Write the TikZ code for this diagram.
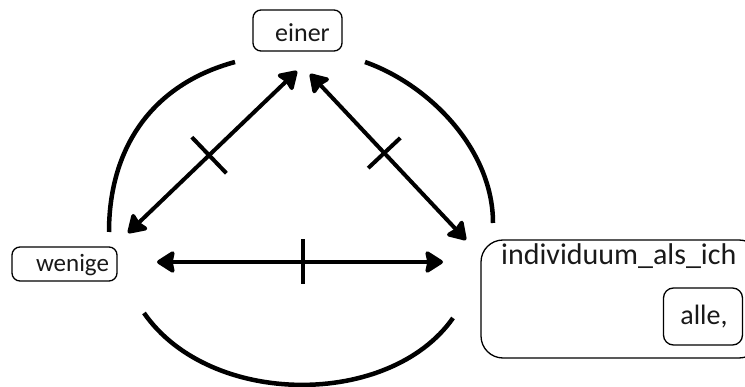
\documentclass[tikz,border=0pt]{standalone}
\usepackage{fontspec}
\setmainfont{Carlito}
\usetikzlibrary{arrows.meta,calc}
\begin{document}
\begin{tikzpicture}[x=1pt,y=-1pt,
  box/.style={draw,line width=1.3pt,rounded corners=8pt,inner sep=0pt},
  bigbox/.style={draw,line width=1.3pt,rounded corners=22pt,inner sep=0pt},
  txt/.style={anchor=base,inner sep=0pt,text=black!90},
  arcline/.style={line width=4.5pt},
  tipstyle/.tip={Stealth[length=20pt,width=25pt,inset=2.5pt,round]},
  link/.style={line width=4pt,tipstyle-tipstyle},
  tickmark/.style={line width=4pt}]
\useasboundingbox (0,0) rectangle (745,387);
\clip (0,0) rectangle (745,387);
% boxes
\node[box,minimum width=89pt,minimum height=41pt] (einer) at (297.5,30.5) {};
\node[txt,font=\fontsize{26pt}{30pt}\selectfont] (einertext) at (302.5,41.5) {einer};
\node[box,minimum width=105pt,minimum height=34pt] (wenige) at (64.5,264) {};
\node[txt,font=\fontsize{25pt}{30pt}\selectfont] (wenigetext) at (72.5,272) {wenige};
\node[bigbox,minimum width=280pt,minimum height=118pt] (indiv) at (621,299) {};
\node[anchor=base west,inner sep=0pt,text=black!90,font=\fontsize{30pt}{36pt}\selectfont] (indivlabel) at (501,265) {individuum\_als\_ich};
\node[box,rounded corners=10pt,minimum width=79pt,minimum height=57pt] (alle) at (703,316.5) {};
\node[txt,font=\fontsize{28pt}{34pt}\selectfont] (alletext) at (704,325) {alle,};
% arcs
\draw[arcline] (109,232) .. controls (109,150) and (150,85) .. (235,62);
\draw[arcline] (365,62) .. controls (430,85) and (493,150) .. (493,223);
\draw[arcline] (144,313) .. controls (210,408) and (390,408) .. (453,318);
% arrow end points
\coordinate (eL) at (297,71);
\coordinate (wT) at (128,233);
\coordinate (eR) at (310,74);
\coordinate (iT) at (466,240);
\coordinate (wR) at (157,262);
\coordinate (iL) at (443,262);
% connectors
\draw[link] (wT) -- (eL);
\draw[link] (eR) -- (iT);
\draw[link] (wR) -- (iL);
% tick marks
\coordinate (m1) at ($(wT)!0.48!(eL)$);
\coordinate (m2) at ($(eR)!0.476!(iT)$);
\coordinate (m3) at ($(wR)!0.509!(iL)$);
\draw[tickmark] ($(m1)!25pt!90:(eL)$) -- ($(m1)!25pt!-90:(eL)$);
\draw[tickmark] ($(m2)!22pt!90:(iT)$) -- ($(m2)!22pt!-90:(iT)$);
\draw[tickmark] ($(m3)!22.5pt!90:(iL)$) -- ($(m3)!22.5pt!-90:(iL)$);
\end{tikzpicture}
\end{document}
